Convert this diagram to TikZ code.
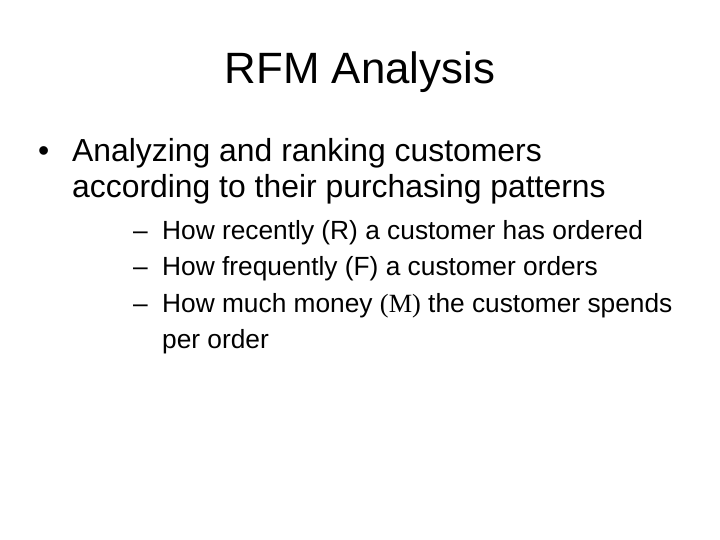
\documentclass[tikz,border=0pt]{standalone}
\usepackage{fontspec}
\setmainfont{Liberation Sans}
\newfontfamily\tms{Liberation Serif}
\begin{document}
\begin{tikzpicture}[x=1bp,y=-1bp,
  tl/.style={anchor=base west,inner sep=0pt,font=\fontsize{32}{32}\selectfont},
  sl/.style={anchor=base west,inner sep=0pt,font=\fontsize{26.4}{26.4}\selectfont}]
\useasboundingbox[fill=white] (0,0) rectangle (720,540);
\node[anchor=base,inner sep=0pt,font=\fontsize{44}{44}\selectfont] (title) at (360,84) {RFM Analysis};
\node[tl] (b1) at (38,162) {•};
\node[tl] (l1) at (72,162) {Analyzing and ranking customers};
\node[tl] (l2) at (72,198) {according to their purchasing patterns};
\node[sl] (d1) at (133,240) {–};
\node[sl] (s1) at (162,240) {How recently (R) a customer has ordered};
\node[sl] (d2) at (133,276) {–};
\node[sl] (s2) at (162,276) {How frequently (F) a customer orders};
\node[sl] (d3) at (133,312) {–};
\node[sl] (s3) at (162,312) {How much money {\tms(M)} the customer spends};
\node[sl] (s4) at (162,348) {per order};
\end{tikzpicture}
\end{document}
